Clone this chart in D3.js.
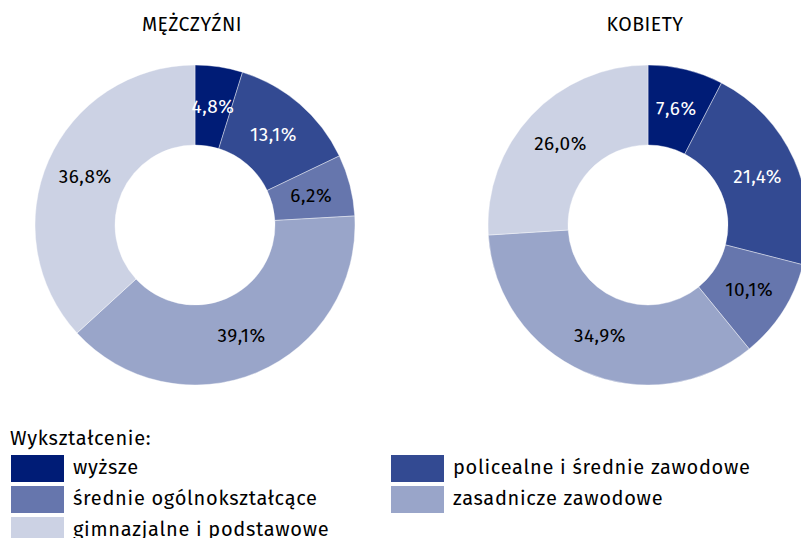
<!DOCTYPE html>
<html>
<head>
<meta charset="utf-8">
<title>wyksztalcenie</title>
<script src="https://d3js.org/d3.v7.min.js"></script>
<style>
    body{
        margin:0;
        font-family:"Fira Sans","Noto Sans",sans-serif;
    }
</style>
</head>
<body>
<div id="chart"></div>
<script type="text/javascript">
    var categories = ["wyższe","policealne i średnie zawodowe","średnie ogólnokształcące","zasadnicze zawodowe","gimnazjalne i podstawowe"]
    var colors = ["#001c76","#334a92","#6676ad","#99a5c9","#ccd2e4"]
    var labelColors = ["#fff","#fff","#000","#000","#000"]
    var men = [4.8,13.1,6.2,39.1,36.8]
    var women = [7.6,21.4,10.1,34.9,26.0]
    var titles = ["MĘŻCZYŹNI","KOBIETY"]

    var w = 801
    var h = 538
    var outer = 160
    var inner = 80

    var svg = d3.select("#chart").append("svg")
        .attr("width",w)
        .attr("height",h)

    var pie = d3.pie().sort(null).value(function(d){return d})
    var arc = d3.arc().innerRadius(inner).outerRadius(outer)
    var labelArc = d3.arc().innerRadius(120).outerRadius(120)

    function donut(values,title,cx,cy){
        var g = svg.append("g").attr("transform","translate("+cx+","+cy+")")
        g.selectAll("path")
            .data(pie(values))
            .enter()
            .append("path")
            .attr("d",arc)
            .attr("fill",function(d,i){return colors[i]})
            .style("stroke","#fff")
            .style("stroke-width",0.4)
        g.selectAll("text.lab")
            .data(pie(values))
            .enter()
            .append("text")
            .attr("class","lab")
            .attr("transform",function(d){return "translate("+labelArc.centroid(d)+")"})
            .attr("dy","0.36em")
            .attr("text-anchor","middle")
            .attr("fill",function(d,i){return labelColors[i]})
            .style("font-size","19px")
            .style("letter-spacing","0.5px")
            .text(function(d){return d.data.toFixed(1).replace(".",",")+"%"})
        svg.append("text").text(title)
            .attr("x",cx-3)
            .attr("y",31)
            .attr("text-anchor","middle")
            .style("font-size","19.5px")
            .style("letter-spacing","0.5px")
    }

    donut(men,titles[0],195,225)
    donut(women,titles[1],648,225)

    // legend
    svg.append("text").text("Wykształcenie:")
        .attr("x",10)
        .attr("y",445)
        .style("font-size","20px")
        .style("letter-spacing","0.7px")

    var legendPos = [[11,455],[391,455],[11,486],[391,486],[11,517]]
    var leg = svg.selectAll("g.leg")
        .data(categories)
        .enter()
        .append("g")
        .attr("class","leg")
        .attr("transform",function(d,i){return "translate("+legendPos[i][0]+","+legendPos[i][1]+")"})
    leg.append("rect")
        .attr("width",53)
        .attr("height",27)
        .attr("fill",function(d,i){return colors[i]})
    leg.append("text")
        .text(function(d){return d})
        .attr("x",62)
        .attr("y",18.5)
        .style("font-size","20px")
        .style("letter-spacing","0.7px")
</script>
</body>
</html>
